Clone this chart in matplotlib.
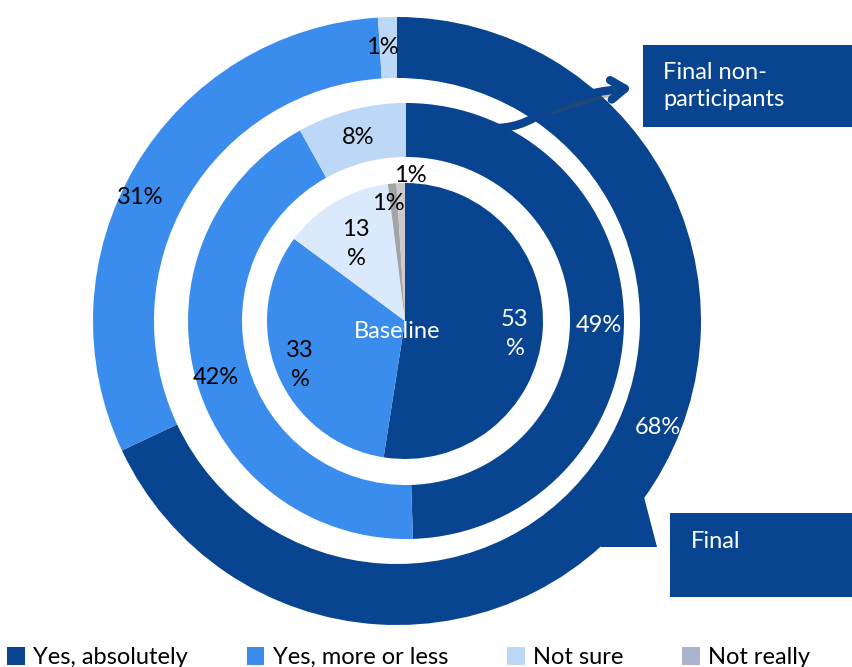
import matplotlib
matplotlib.use("Agg")
import matplotlib.pyplot as plt
from matplotlib.patches import Rectangle, Polygon, FancyArrowPatch
from matplotlib.path import Path
import matplotlib.patheffects as pe

plt.rcParams['font.family'] = ['Lato', 'DejaVu Sans']

# ---------------- data ----------------
categories = ["Yes, absolutely", "Yes, more or less", "Not sure", "Not really"]
baseline_labels = ["Yes, absolutely", "Yes, more or less", "Not sure", "Not really", "Other"]
baseline_values = [53, 33, 13, 1, 1]
nonpart_values = [49, 42, 8]
final_values = [68, 31, 1]
ring_names = ["Baseline", "Final non-\nparticipants", "Final"]

# ---------------- style ----------------
DARK = "#08448f"
MED = "#3b8ded"
LIGHT = "#bdd7f7"
LIGHTER = "#dae9fb"
GREY1 = "#a4a4a4"
GREY2 = "#cacaca"
LEG_GREY = "#aab4cc"

W, H = 852, 667
fig = plt.figure(figsize=(W / 100, H / 100), dpi=100)
ax = fig.add_axes([0, 0, 1, 1])


def Y(py):
    return H - py


# outer ring (Final)
ax.pie(final_values, radius=304, center=(397, Y(321)), startangle=90, counterclock=False,
       colors=[DARK, MED, LIGHT], wedgeprops=dict(width=61, edgecolor='none'))
# middle ring (Final non-participants)
ax.pie(nonpart_values, radius=218, center=(406, Y(321)), startangle=90, counterclock=False,
       colors=[DARK, MED, LIGHT], wedgeprops=dict(width=54, edgecolor='none'))
# inner pie (Baseline)
ax.pie(baseline_values, radius=138, center=(405, Y(321)), startangle=90, counterclock=False,
       colors=[DARK, MED, LIGHTER, GREY1, GREY2], wedgeprops=dict(edgecolor='none'))

# callout pointer for "Final"
ax.add_patch(Polygon([(602, Y(458)), (655, Y(478)), (644, Y(497)), (657, Y(547)), (601, Y(547))],
                     closed=True, facecolor=DARK, edgecolor='none', zorder=1))

ax.set_xlim(0, W)
ax.set_ylim(0, H)
ax.set_aspect('equal')
ax.axis('off')

FS = 17
# value labels
label_specs = [
    (final_values[2], 382, 47, 'black'),
    (final_values[1], 140, 198, 'black'),
    (final_values[0], 658, 427, 'white'),
    (nonpart_values[0], 599, 325, 'white'),
    (nonpart_values[1], 216, 378, 'black'),
    (nonpart_values[2], 358, 138, 'black'),
    (baseline_values[4], 410, 175, 'black'),
    (baseline_values[3], 388, 203, 'black'),
]
for v, x, y, c in label_specs:
    ax.text(x, Y(y), f"{v}%", ha='center', va='center', fontsize=FS, color=c, zorder=5)

two_line = [
    (baseline_values[0], 515, 334, 'white'),
    (baseline_values[1], 300, 365, 'black'),
    (baseline_values[2], 356, 244, 'black'),
]
for v, x, y, c in two_line:
    ax.text(x, Y(y), f"{v}\n%", ha='center', va='center', fontsize=FS, color=c,
            linespacing=1.45, zorder=5)

ax.text(397, Y(331), ring_names[0], ha='center', va='center', fontsize=FS, color='white', zorder=5)

# boxes
ax.add_patch(Rectangle((643, Y(127)), 209, 82, facecolor=DARK, edgecolor='none', zorder=4))
ax.text(663, Y(86), ring_names[1], ha='left', va='center', fontsize=FS, color='white',
        linespacing=1.35, zorder=5)
ax.add_patch(Rectangle((670, Y(597)), 182, 84, facecolor=DARK, edgecolor='none', zorder=4))
ax.text(691, Y(541), ring_names[2], ha='left', va='center', fontsize=FS, color='white', zorder=5)

# curved arrow
verts = [(497, Y(128)), (545, Y(126)), (540, Y(96)), (632, Y(88))]
path = Path(verts, [Path.MOVETO, Path.CURVE4, Path.CURVE4, Path.CURVE4])
arrow = FancyArrowPatch(path=path, arrowstyle='->,head_length=10,head_width=7',
                        color=DARK, lw=6, zorder=6, capstyle='round', joinstyle='round',
                        path_effects=[pe.SimplePatchShadow(offset=(2, -2), alpha=0.35), pe.Normal()])
ax.add_patch(arrow)

# legend
handles = [Rectangle((0, 0), 1, 1, facecolor=c, edgecolor='none') for c in [DARK, MED, LIGHT, LEG_GREY]]
fig.legend(handles, categories, loc='lower left', bbox_to_anchor=(-0.003, -0.016), ncol=4,
           frameon=False, fontsize=FS, handlelength=0.75, handleheight=0.75, handletextpad=0.35,
           columnspacing=2.5, borderaxespad=0)

fig.savefig("out.png", dpi=100)
